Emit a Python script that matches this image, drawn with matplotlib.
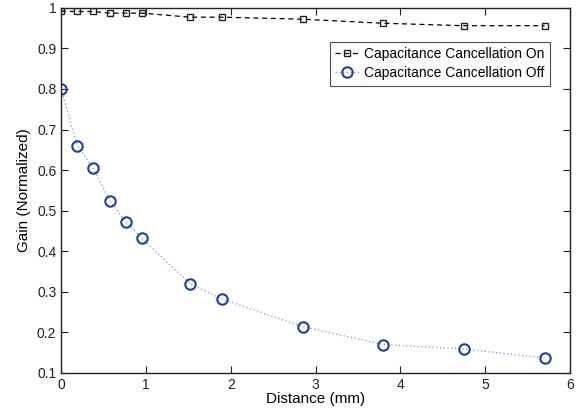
import matplotlib
matplotlib.use("Agg")
import matplotlib.pyplot as plt

distance = [0, 0.19, 0.38, 0.57, 0.76, 0.95, 1.52, 1.9, 2.85, 3.8, 4.75, 5.7]
gain_on = [0.992, 0.991, 0.991, 0.987, 0.987, 0.987, 0.977, 0.977, 0.972, 0.962, 0.956, 0.956]
gain_off = [0.80, 0.66, 0.604, 0.525, 0.473, 0.432, 0.32, 0.282, 0.214, 0.17, 0.159, 0.137]
yticks = [0.1, 0.2, 0.3, 0.4, 0.5, 0.6, 0.7, 0.8, 0.9, 1.0]
ylabels = ["0.1", "0.2", "0.3", "0.4", "0.5", "0.6", "0.7", "0.8", "0.9", "1"]
xticks = [0, 1, 2, 3, 4, 5, 6]

plt.rcParams['font.family'] = ['Liberation Sans', 'DejaVu Sans']

fig = plt.figure(figsize=(5.77, 4.13), dpi=100)
ax = fig.add_axes([0.106, 0.097, 0.882, 0.884])

ax.plot(distance, gain_on, linestyle=(0, (4, 3)), color='black', linewidth=0.9,
        marker='s', markersize=5, markerfacecolor='none', markeredgecolor='#222222',
        markeredgewidth=1.0, label='Capacitance Cancellation On')
ax.plot(distance, gain_off, linestyle=(0, (1, 2)), color='#7f93d6', linewidth=0.9,
        marker='o', markersize=7.5, markerfacecolor='none', markeredgecolor='#1d40a0',
        markeredgewidth=1.5, label='Capacitance Cancellation Off')

ax.set_xlim(0, 6)
ax.set_ylim(0.1, 1.0)
ax.set_xticks(xticks)
ax.set_yticks(yticks)
ax.set_yticklabels(ylabels)
ax.tick_params(direction='in', top=True, right=True, labelsize=10, length=5, width=0.8, colors='#222222')
for s in ax.spines.values():
    s.set_linewidth(1.0)
    s.set_color('#222222')
ax.set_xlabel('Distance (mm)', fontsize=11, labelpad=0)
ax.set_ylabel('Gain (Normalized)', fontsize=11, labelpad=4)

leg = ax.legend(loc='upper right', bbox_to_anchor=(0.961, 0.907), fontsize=10, frameon=True,
                fancybox=False, edgecolor='#222222', handlelength=1.7, handletextpad=0.4,
                borderpad=0.4, labelspacing=0.35, borderaxespad=0.0)
leg.get_frame().set_linewidth(0.8)

fig.savefig('out.png', dpi=100)
